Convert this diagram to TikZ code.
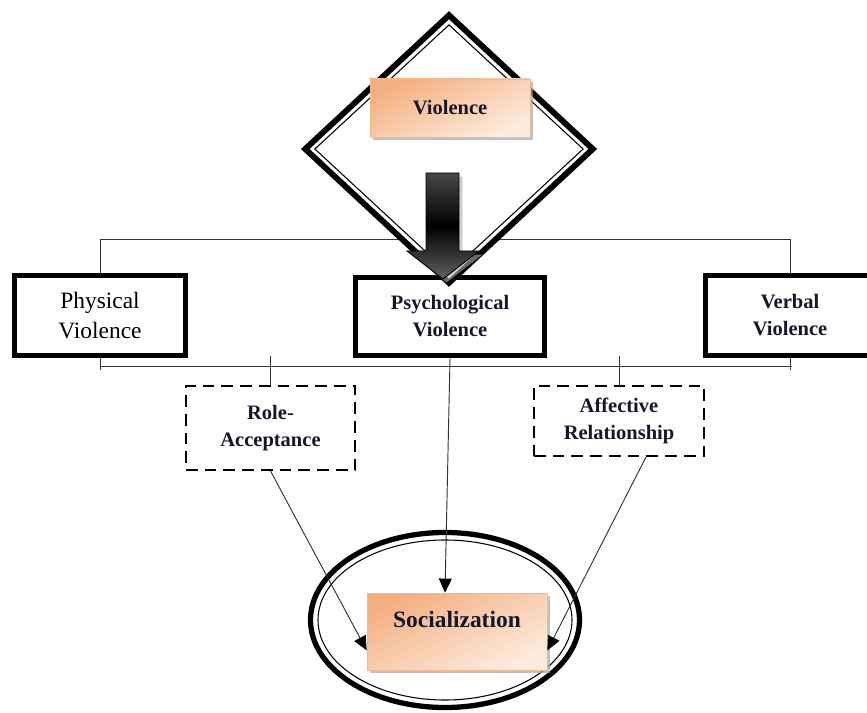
\documentclass[tikz,border=0pt]{standalone}
\usepackage{fontspec}
\setmainfont{Liberation Serif}
\usepackage{tikz}
\usetikzlibrary{arrows.meta,
                calc,
                shadows,
                positioning,
                shapes.geometric}

\definecolor{peachdark}{RGB}{244,175,128}
\definecolor{peachlight}{RGB}{253,236,222}
\definecolor{inkblue}{RGB}{22,22,42}

\begin{document}
\begin{tikzpicture}[x=0.03cm, y=-0.03cm,
  thinline/.style={draw=black!80, line width=0.8pt},
  thinarrow/.style={thinline, -{Triangle[length=12pt,width=11pt,color=black]}},
  bigtext/.style={font=\fontsize{17.5}{23}\selectfont\bfseries, text=inkblue},
  typebox/.style={draw, fill=white, line width=4.5pt, inner sep=0pt, align=center, bigtext},
  linkbox/.style={draw, fill=white, line width=1.7pt, dash pattern=on 10pt off 6pt,
                  inner sep=0pt, align=center, bigtext},
  peachbox/.style={draw=peachdark!90, line width=0.6pt, top color=peachdark,
                   bottom color=peachlight, shading angle=25, inner sep=0pt,
                   drop shadow={shadow xshift=2.5pt, shadow yshift=-2.5pt, fill=gray!70, opacity=0.7}}]
\useasboundingbox (0,0) rectangle (867,713);

\node[typebox, minimum width=5.13cm, minimum height=2.4cm,
      font=\fontsize{20}{25}\selectfont, text=black] (phys) at (100,315.5) {Physical\\Violence};
\node[typebox, minimum width=5.67cm, minimum height=2.34cm] (psych) at (450,316.5) {Psychological\\Violence};
\node[typebox, minimum width=5.07cm, minimum height=2.4cm] (verb) at (790,315.5) {Verbal\\Violence};

\draw[thinline] (phys.north) -- ++(0,-33) -| (verb.north);
\draw[thinline] (phys.south) -- ++(0,12);
\draw[thinline] (verb.south) -- ++(0,12);
\coordinate (bl) at (100,366);
\coordinate (br) at (792,366);
\draw[thinline] (bl) -- (br);

\node[diamond, draw, fill=white, line width=5pt, inner sep=0pt,
      minimum width=8.7cm, minimum height=8.1cm] (dia) at (449,149) {};
\node[diamond, draw, line width=0.9pt, inner sep=0pt,
      minimum width=8.06cm, minimum height=7.46cm] (diain) at (dia.center) {};

\node[peachbox, bigtext, minimum width=4.8cm, minimum height=1.74cm] (viol) at (450,108) {Violence};

\shade[draw=black, line width=0.8pt, top color=black!72, bottom color=black!62, middle color=black,
       drop shadow={shadow xshift=3pt, shadow yshift=-3pt, fill=gray!60, opacity=0.6}]
  (426,173) -- (459,173) -- (459,251) -- (479,251) -- (443,279) -- (407,251) -- (426,251) -- cycle;

\node[linkbox, minimum width=5.07cm, minimum height=2.52cm] (role) at (270.5,428) {Role-\\Acceptance};
\node[linkbox, minimum width=5.1cm, minimum height=2.1cm] (aff) at (619,421) {Affective\\Relationship};
\draw[thinline] (role.north) -- ++(0,-29);
\draw[thinline] (aff.north) -- ++(0,-29);

\node[ellipse, draw, line width=4.5pt, inner sep=0pt,
      minimum width=8.07cm, minimum height=5.25cm] (ring) at (445,620) {};
\node[ellipse, draw, line width=0.9pt, inner sep=0pt,
      minimum width=7.62cm, minimum height=4.8cm] (ringin) at (ring.center) {};

\node[peachbox, bigtext, font=\fontsize{20}{24}\selectfont\bfseries,
      minimum width=5.4cm, minimum height=2.31cm, text height=14pt, text depth=20pt] (soc) at (457,631.5) {Socialization};

\draw[thinarrow] (role.south) -- ($(soc.south west)+(0,-20)$);
\draw[thinarrow] (psych.south) -- ($(soc.north)+(-12,0)$);
\draw[thinarrow] ($(aff.south)+(27,0)$) -- ($(soc.south east)+(0,-20)$);
\end{tikzpicture}
\end{document}
